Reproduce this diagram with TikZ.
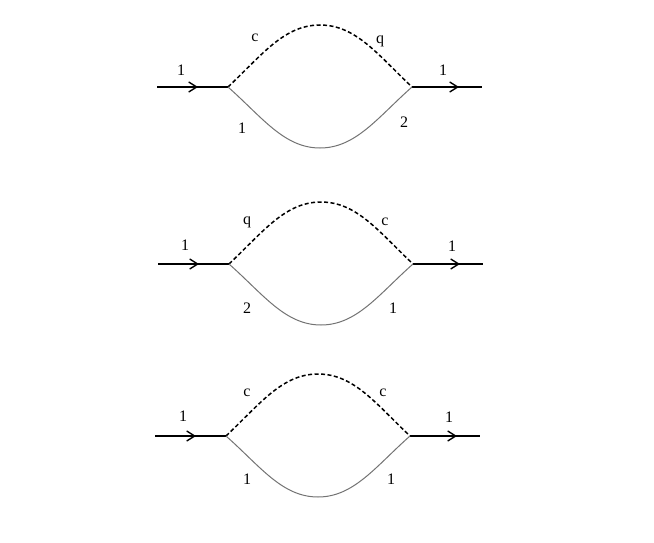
\documentclass[tikz,border=0pt]{standalone}
\usepackage{fontspec}
\setmainfont{Liberation Serif}
\usetikzlibrary{arrows.meta}
\tikzset{
  ext/.style={line width=1.8pt, black},
  extarrow/.style={line width=1.8pt, black, -{Straight Barb[length=8pt,width=10pt,line width=1.4pt]}},
  ghost/.style={line width=1.5pt, dash pattern=on 4pt off 2.5pt, black},
  prop/.style={line width=1pt, gray!90!black},
  lbl/.style={font=\fontsize{16}{18}\selectfont, inner sep=0pt}
}
\begin{document}
\begin{tikzpicture}[x=1pt,y=-1pt]
\useasboundingbox (0,0) rectangle (654,543);
\foreach \i/\yy/\xo in {1/87/0, 2/264/1, 3/436/-2} {
  \coordinate (L\i) at (157+\xo,\yy);
  \coordinate (A\i) at (198+\xo,\yy);
  \coordinate (V\i) at (228+\xo,\yy);
  \coordinate (W\i) at (412+\xo,\yy);
  \coordinate (B\i) at (459+\xo,\yy);
  \coordinate (R\i) at (482+\xo,\yy);
  \coordinate (T\i) at (320+\xo,\yy-62);
  \coordinate (D\i) at (320+\xo,\yy+61);
  \draw[ext] (L\i) -- (V\i);
  \draw[extarrow] (L\i) -- (A\i);
  \draw[ext] (W\i) -- (R\i);
  \draw[extarrow] (W\i) -- (B\i);
  \draw[ghost] (V\i) .. controls ++(34,-32) and ++(-36,0) .. (T\i)
                     .. controls ++(36,0) and ++(-34,-32) .. (W\i);
  \draw[prop] (V\i) .. controls ++(34,30) and ++(-36,0) .. (D\i)
                    .. controls ++(36,0) and ++(-34,30) .. (W\i);
}
\node[lbl] (a1) at (181,70) {1};
\node[lbl] (a2) at (255,38) {c};
\node[lbl] (a3) at (380,41) {q};
\node[lbl] (a4) at (443,70) {1};
\node[lbl] (a5) at (242,128) {1};
\node[lbl] (a6) at (404,122) {2};
\node[lbl] (b1) at (185,245) {1};
\node[lbl] (b2) at (247,222) {q};
\node[lbl] (b3) at (385,222) {c};
\node[lbl] (b4) at (452,246) {1};
\node[lbl] (b5) at (247,308) {2};
\node[lbl] (b6) at (393,308) {1};
\node[lbl] (c1) at (183,416) {1};
\node[lbl] (c2) at (247,393) {c};
\node[lbl] (c3) at (383,393) {c};
\node[lbl] (c4) at (449,417) {1};
\node[lbl] (c5) at (247,479) {1};
\node[lbl] (c6) at (391,479) {1};
\end{tikzpicture}
\end{document}
